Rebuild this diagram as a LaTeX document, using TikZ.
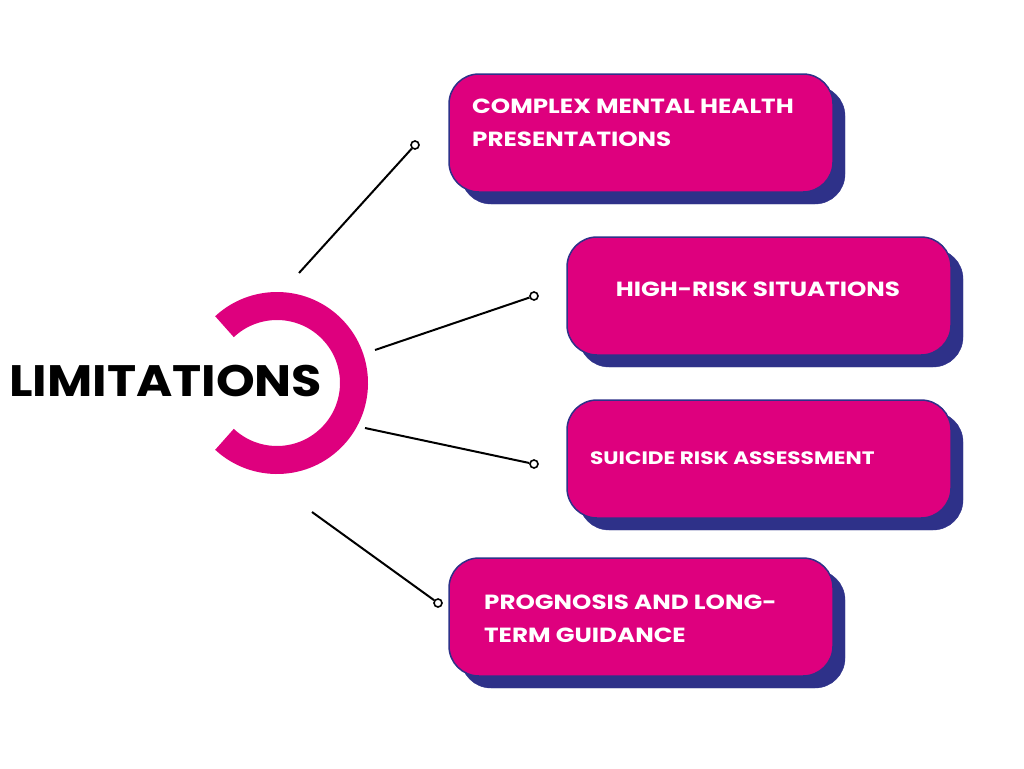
\documentclass[tikz,border=0pt]{standalone}
\usepackage{fontspec}
\setmainfont{Poppins}[BoldFont={* Bold}]
\newfontfamily\wideb{Poppins Bold}[FakeStretch=1.2]
\newfontfamily\wideL{Poppins Bold}[FakeStretch=1.12]
\begin{document}
\begin{tikzpicture}[x=1pt,y=-1pt,
 box/.style={fill=mag,draw=navy,line width=1.5pt,rounded corners=30pt},
 sh/.style={fill=navy,draw=navy,rounded corners=30pt},
 lbl/.style={text=white,font=\wideb\fontsize{20.5}{33}\selectfont,anchor=north west,align=left,inner sep=0},
 con/.style={line width=2pt,black},
 dot/.style={circle,draw=black,line width=1.6pt,fill=white,inner sep=0,minimum size=8pt}]
\definecolor{mag}{HTML}{DE007E}
\definecolor{navy}{HTML}{2E3189}
\useasboundingbox (0,0) rectangle (1024,768);
\draw[mag,line width=28pt] (277,383) ++(133:77) arc[start angle=133,end angle=-133,radius=77];
\node[font=\wideL\fontsize{44}{44}\selectfont,anchor=west,inner sep=0] (lim) at (9,381) {LIMITATIONS};
\foreach \n/\x/\y in {a/449/74,b/567/237,c/567/400,d/449/558}{
 \path[sh] (\x+12,\y+12) rectangle ++(384,118);
 \path[box] (\x,\y) rectangle ++(384,118) node[pos=.5,inner sep=0] (\n) {};
}
\node[lbl] (ta) at (472,99) {COMPLEX MENTAL HEALTH\\PRESENTATIONS};
\node[lbl,anchor=center] (tb) at (758,289) {HIGH-RISK SITUATIONS};
\node[lbl,anchor=west,font=\wideb\fontsize{18}{20}\selectfont] (tc) at (590,458) {SUICIDE RISK ASSESSMENT};
\node[lbl] (td) at (484,595) {PROGNOSIS AND LONG-\\TERM GUIDANCE};
\coordinate (s1) at (299,273); \node[dot] (e1) at (415,145) {};
\coordinate (s2) at (375,350); \node[dot] (e2) at (534,296) {};
\coordinate (s3) at (365,428); \node[dot] (e3) at (534,464) {};
\coordinate (s4) at (312,512); \node[dot] (e4) at (438,603) {};
\foreach \i in {1,...,4}{\draw[con] (s\i) -- (e\i);}
\end{tikzpicture}
\end{document}
